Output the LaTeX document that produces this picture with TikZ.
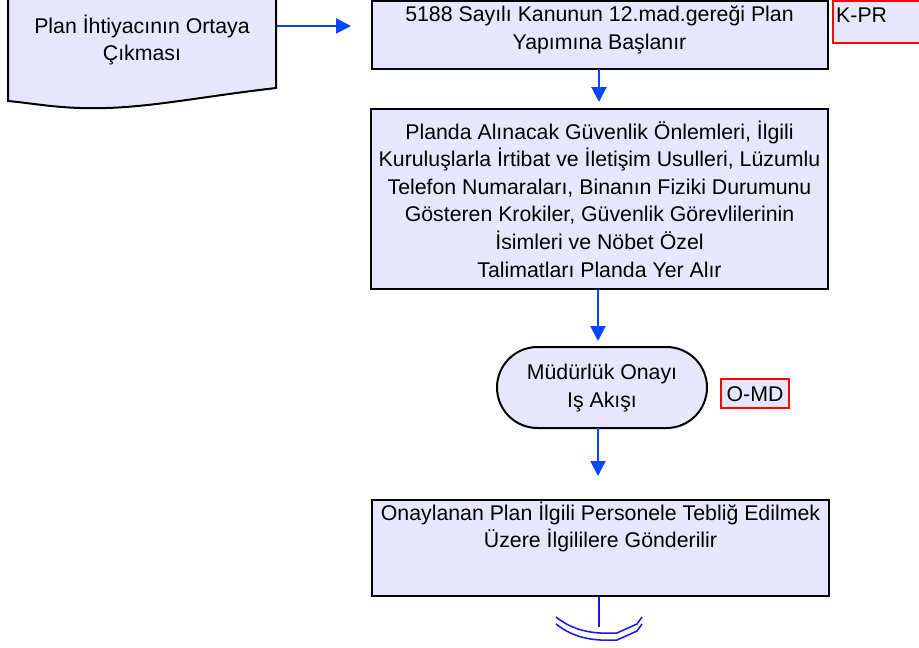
\documentclass[tikz,border=0pt]{standalone}
\usepackage{fontspec}
\setmainfont{Liberation Sans}
\usetikzlibrary{arrows.meta,shapes.misc}
\definecolor{boxfill}{RGB}{230,230,252}
\definecolor{arrowblue}{RGB}{0,72,255}
\definecolor{connblue}{RGB}{20,20,235}
\begin{document}
\begin{tikzpicture}[x=1pt,y=-1pt,
  box/.style={draw=black,line width=2pt,fill=boxfill,rectangle,inner sep=0pt,align=center},
  codebox/.style={draw=red,line width=1.6pt,fill=boxfill,rectangle,inner sep=0pt},
  txt/.style={align=center,inner sep=0pt,font=\fontsize{21.3}{27.6}\selectfont},
  arr/.style={draw=arrowblue,line width=2pt,-{Triangle[length=15pt,width=15pt]}},
  conn/.style={draw=connblue,line width=1.5pt}]
\useasboundingbox (0,0) rectangle (919,648);
\clip (0,0) rectangle (919,648);
\fill[white] (0,0) rectangle (919,648);
% document shape
\path[draw=black,line width=2pt,fill=boxfill] (8,-3) -- (276,-3) -- (276,88)
  .. controls (190,98) and (140,110) .. (80,108)
  .. controls (50,107) and (30,103) .. (8,101) -- cycle;
\node[txt] (doc) at (142,40) {Plan İhtiyacının Ortaya\\Çıkması};
\coordinate (docR) at (277,26);
\coordinate (a1end) at (351,26);
% boxes
\node[box,minimum width=456pt,minimum height=68pt] (b1) at (599.5,35) {};
\node[txt] (t1) at (599.5,30) {5188 Sayılı Kanunun 12.mad.gereği Plan\\Yapımına Başlanır};
\node[box,minimum width=457pt,minimum height=180pt] (b2) at (599.5,199) {};
\node[txt] (t2) at (599.5,199) {Planda Alınacak Güvenlik Önlemleri, İlgili\\Kuruluşlarla İrtibat ve İletişim Usulleri, Lüzumlu\\Telefon Numaraları, Binanın Fiziki Durumunu\\Gösteren Krokiler, Güvenlik Görevlilerinin\\İsimleri ve Nöbet Özel\\Talimatları Planda Yer Alır};
\node[draw=black,line width=2pt,fill=boxfill,rounded rectangle,minimum width=210pt,minimum height=81pt,inner sep=0pt] (term) at (602,387.5) {};
\node[txt] (t3) at (602,388) {Müdürlük Onayı\\Iş Akışı};
\node[box,minimum width=457pt,minimum height=96pt] (b4) at (600.5,548) {};
\node[txt] (t4) at (600.5,527) {Onaylanan Plan İlgili Personele Tebliğ Edilmek\\Üzere İlgililere Gönderilir};
% code boxes
\node[codebox,minimum width=92pt,minimum height=42pt] (kpr) at (879,22) {};
\node[txt,anchor=west] (kprt) at (836,15) {K-PR};
\node[codebox,minimum width=68pt,minimum height=29pt] (omd) at (755,393.5) {};
\node[txt] (omdt) at (755,394) {O-MD};
% connectors
\draw[arr] (docR) -- (a1end);
\draw[arr,shorten >=6pt] (599,69) -- (b2.north -| 599,0);
\draw[arr,shorten >=6pt] (b2.south -| 598,0) -- (598,347);
\draw[arr] (598,428) -- (598,476);
\coordinate (offend) at (599,627);
\draw[conn] (b4.south -| 599,0) -- (offend);
\draw[conn] (556,617) .. controls (575,632) and (595,634) .. (617,633) -- (637,624) -- (642,617);
\draw[conn] (556,624) .. controls (575,639) and (595,641) .. (617,640) -- (637,631) -- (642,624);
\end{tikzpicture}
\end{document}
